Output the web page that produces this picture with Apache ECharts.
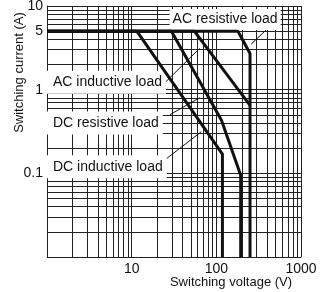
<!DOCTYPE html>
<html>
<head>
<meta charset="utf-8">
<script src="https://cdn.jsdelivr.net/npm/echarts@6/dist/echarts.min.js"></script>
<style>
html, body { margin: 0; padding: 0; background: #fff; }
#chart { width: 321px; height: 292px; }
</style>
</head>
<body>
<div id="chart"></div>
<script>
// grid lines of the log paper
var xGridValues = [1, 2, 3, 4, 5, 6, 7, 8, 9, 10, 20, 30, 40, 50, 60, 70, 80, 90,
    100, 200, 300, 400, 500, 600, 700, 800, 900, 1000];
var yGridValues = [0.01, 0.02, 0.03, 0.04, 0.05, 0.06, 0.07, 0.08, 0.09, 0.1,
    0.2, 0.3, 0.4, 0.5, 0.6, 0.7, 0.8, 0.9, 1, 2, 3, 4, 5, 6, 7, 8, 9, 10];
var xTickLabels = [10, 100, 1000];
var yTickLabels = [0.1, 1, 5, 10];

// switching capacity curves [voltage, current]
var acResistive = [[1, 5], [180, 5], [250, 2.7], [250, 0.01]];
var acInductive = [[1, 5], [55, 5], [250, 0.65]];
var dcResistive = [[1, 5], [29.5, 5], [115, 0.43], [194, 0.095], [194, 0.01]];
var dcInductive = [[1, 5], [11.5, 5], [118, 0.17], [118, 0.01]];

var loadLabels = ['AC resistive load', 'AC inductive load', 'DC resistive load', 'DC inductive load'];
var labelAnchors = [[127, 6.9], [1, 1.23], [1, 0.40], [1, 0.12]];
var arrowStarts = [[390, 5.2], [23.2, 1.14], [28.1, 0.5], [24.5, 0.144]];
var arrowEnds = [[258, 3.5], [63.6, 3.12], [63.6, 0.8], [66.6, 0.315]];

var font = 'Liberation Sans';
var chart = echarts.init(document.getElementById('chart'));

var gridLines = [];
xGridValues.forEach(function (v) { gridLines.push({ xAxis: v }); });
yGridValues.forEach(function (v) { gridLines.push({ yAxis: v }); });

var arrows = [];
for (var i = 0; i < arrowStarts.length; i++) {
    arrows.push([{ coord: arrowStarts[i] }, { coord: arrowEnds[i] }]);
}

var labelPoints = loadLabels.map(function (t, i) {
    var centred = i === 0;
    return {
        coord: labelAnchors[i],
        value: t,
        label: {
            position: centred ? 'inside' : 'right',
            distance: 0,
            padding: centred ? [4, 3, 3, 3] : [5, 4, 4, 6]
        }
    };
});

function curve(data) {
    return {
        type: 'line',
        data: data,
        symbol: 'none',
        z: 5,
        lineStyle: { color: '#111', width: 3 },
        animation: false
    };
}

var option = {
    animation: false,
    grid: { left: 47, right: 20, top: 6, bottom: 35, outerBoundsMode: 'none', containLabel: false },
    xAxis: {
        type: 'log',
        logBase: 10,
        min: 1,
        max: 1000,
        name: 'Switching voltage (V)',
        nameLocation: 'middle',
        nameGap: 19,
        nameMoveOverlap: false,
        nameTextStyle: { fontFamily: font, fontSize: 13, color: '#111', padding: [0, 0, 0, 114] },
        axisLine: { show: true, lineStyle: { color: '#666', width: 1 } },
        axisTick: { show: false },
        splitLine: { show: false },
        axisLabel: {
            fontFamily: font, fontSize: 14, color: '#111', margin: 5,
            formatter: function (v) {
                return xTickLabels.indexOf(Math.round(v)) >= 0 ? String(Math.round(v)) : '';
            }
        }
    },
    yAxis: {
        type: 'log',
        logBase: 10,
        min: 0.01,
        max: 10,
        name: 'Switching current (A)',
        nameLocation: 'middle',
        nameGap: 21,
        nameMoveOverlap: false,
        nameTextStyle: { fontFamily: font, fontSize: 13, color: '#111', padding: [0, 0, 0, 118] },
        axisLine: { show: true, lineStyle: { color: '#666', width: 1 } },
        axisTick: { show: false },
        splitLine: { show: false },
        axisLabel: {
            fontFamily: font, fontSize: 14, color: '#111', margin: 4,
            customValues: yTickLabels,
            formatter: function (v) { return String(v); }
        }
    },
    series: [
        {
            type: 'line',
            data: [],
            z: 1,
            silent: true,
            markLine: {
                silent: true,
                symbol: 'none',
                label: { show: false },
                lineStyle: { color: '#222', width: 1, type: 'solid' },
                data: gridLines
            }
        },
        {
            type: 'line',
            data: [],
            z: 3,
            silent: true,
            markPoint: {
                symbolSize: 0,
                label: {
                    show: true,
                    formatter: '{c}',
                    fontFamily: font,
                    fontSize: 14,
                    color: '#111',
                    backgroundColor: '#fff'
                },
                data: labelPoints
            },
            markLine: {
                silent: true,
                symbol: ['none', 'arrow'],
                symbolSize: [0, 7],
                label: { show: false },
                lineStyle: { color: '#111', width: 1, type: 'solid' },
                data: arrows
            }
        },
        curve(acResistive),
        curve(acInductive),
        curve(dcResistive),
        curve(dcInductive)
    ]
};
chart.setOption(option);
</script>
</body>
</html>
